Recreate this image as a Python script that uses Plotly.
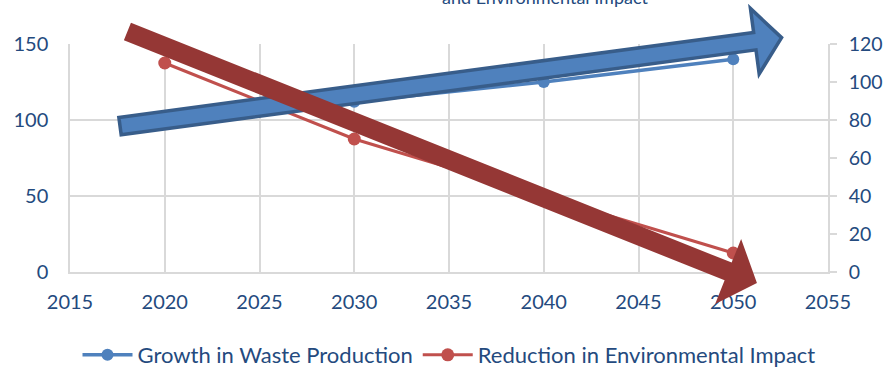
import math
import plotly.graph_objects as go

# ---- data ----
years = [2020, 2030, 2040, 2050]
waste_growth = [100, 112, 125, 140]          # left axis
impact_reduction = [110, 70, 40, 10]         # right axis
series_names = ["Growth in Waste Production", "Reduction in Environmental Impact"]
title_text = "and Environmental Impact"

x_ticks = [2015, 2020, 2025, 2030, 2035, 2040, 2045, 2050, 2055]
y_left_ticks = [0, 50, 100, 150]
y_right_ticks = [0, 20, 40, 60, 80, 100, 120]

# decorative trend arrows (data units: x years, y on left axis)
blue_arrow_x = [2017.64, 2052.55]
blue_arrow_y = [96, 154.2]
red_arrow_x = [2018.03, 2051.25]
red_arrow_y = [158.2, -7.2]

# ---- layout geometry ----
W, H = 885, 368
ML, MR, MT, MB = 70, 57, 44, 96
PW, PH = W - ML - MR, H - MT - MB
XR = [2015, 2055]
YR = [0, 150]
Y2R = [0, 120]

TXT = "#244A7E"
GRID = "#D9D9D9"
FONT = "Lato, 'Noto Sans', sans-serif"


def to_px(x, y):
    px = (x - XR[0]) / (XR[1] - XR[0]) * PW
    py = (y - YR[0]) / (YR[1] - YR[0]) * PH  # up positive
    return px, py


def arrow_path(xs, ys, half_w, half_head, head_len):
    x0, y0 = to_px(xs[0], ys[0])
    x1, y1 = to_px(xs[1], ys[1])
    dx, dy = x1 - x0, y1 - y0
    d = math.hypot(dx, dy)
    ux, uy = dx / d, dy / d
    nx, ny = -uy, ux
    bx, by = x1 - ux * head_len, y1 - uy * head_len
    pts = [
        (x0 + nx * half_w, y0 + ny * half_w),
        (bx + nx * half_w, by + ny * half_w),
        (bx + nx * half_head, by + ny * half_head),
        (x1, y1),
        (bx - nx * half_head, by - ny * half_head),
        (bx - nx * half_w, by - ny * half_w),
        (x0 - nx * half_w, y0 - ny * half_w),
    ]
    s = ""
    for i, (px, py) in enumerate(pts):
        s += ("M" if i == 0 else "L") + f"{px / PW:.5f},{py / PH:.5f} "
    return s + "Z"


fig = go.Figure()
fig.add_trace(go.Scatter(
    x=years, y=waste_growth, name=series_names[0], mode="lines+markers",
    line=dict(color="#4F81BD", width=3.5), marker=dict(size=12, color="#4F81BD"),
    yaxis="y"))
fig.add_trace(go.Scatter(
    x=years, y=impact_reduction, name=series_names[1], mode="lines+markers",
    line=dict(color="#C0504D", width=3), marker=dict(size=13, color="#C0504D"),
    yaxis="y2"))

shapes = [
    dict(type="path", xref="paper", yref="paper",
         path=arrow_path(blue_arrow_x, blue_arrow_y, 8.75, 33, 27),
         fillcolor="#4F81BD", line=dict(color="#385D8A", width=3.5), layer="above"),
    dict(type="path", xref="paper", yref="paper",
         path=arrow_path(red_arrow_x, red_arrow_y, 9.5, 35, 31),
         fillcolor="#953735", line=dict(width=0), layer="above"),
]

fig.update_layout(
    width=W, height=H,
    margin=dict(l=ML, r=MR, t=MT, b=MB, autoexpand=False),
    paper_bgcolor="white", plot_bgcolor="white",
    font=dict(family=FONT, size=20, color=TXT),
    showlegend=True,
    legend=dict(orientation="h", x=0.5, xanchor="center", y=-0.364, yanchor="middle",
                font=dict(size=22, color=TXT), itemwidth=50, bgcolor="rgba(0,0,0,0)"),
    xaxis=dict(range=XR, tickvals=x_ticks, ticktext=[str(v) for v in x_ticks],
               showgrid=True, gridcolor=GRID, gridwidth=1.5, zeroline=False,
               showline=True, linecolor=GRID, linewidth=1.5, ticks="",
               ticklabelstandoff=11, tickfont=dict(size=20, color=TXT)),
    yaxis=dict(range=YR, tickvals=y_left_ticks, showgrid=True, gridcolor=GRID, gridwidth=1.5,
               zeroline=False, showline=True, linecolor=GRID, linewidth=1.5, ticks="",
               ticklabelstandoff=16, tickfont=dict(size=20, color=TXT)),
    yaxis2=dict(range=Y2R, tickvals=y_right_ticks, overlaying="y", side="right",
                showgrid=False, zeroline=False, showline=True, linecolor=GRID, linewidth=1.5,
                ticks="outside", ticklen=7, tickcolor=GRID, tickwidth=1.5,
                ticklabelstandoff=8, tickfont=dict(size=19.5, color=TXT)),
    shapes=shapes,
    annotations=[dict(text=title_text, xref="paper", yref="paper",
                      x=(545 - ML) / PW, y=(PH + MT - 10) / PH, xanchor="center",
                      yanchor="bottom", showarrow=False,
                      font=dict(size=18, color=TXT, family=FONT))],
)

fig.write_html("out.html")
